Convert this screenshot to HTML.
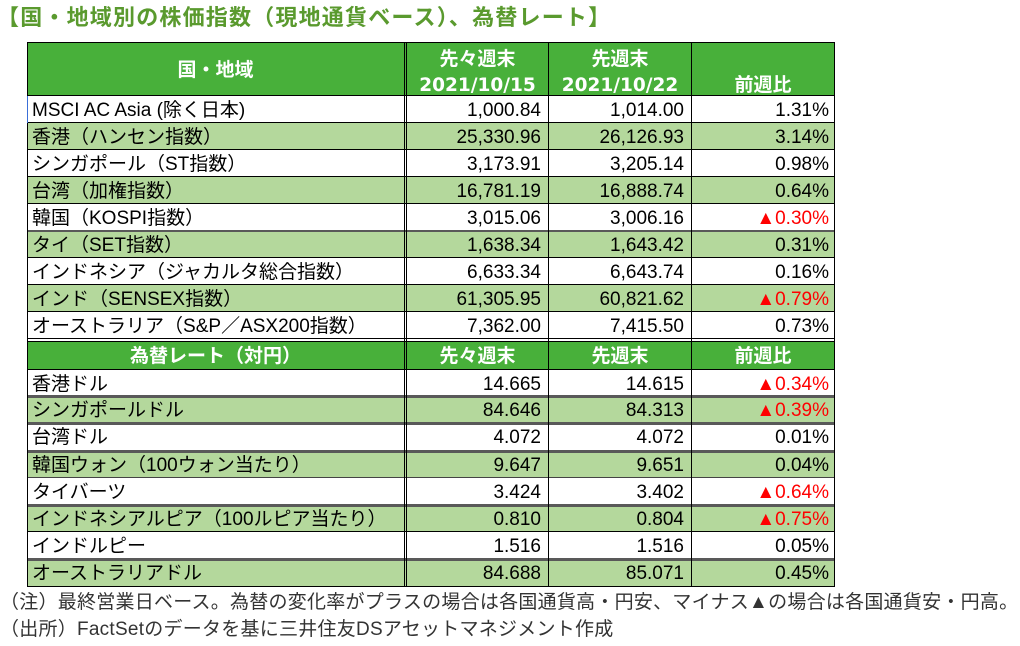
<!DOCTYPE html>
<html><head><meta charset="utf-8">
<style>
html,body{margin:0;padding:0;background:#fff;}
body{width:1020px;height:646px;position:relative;overflow:hidden;font-family:"Liberation Sans","Noto Sans CJK JP",sans-serif;color:#000;}
.t{position:absolute;left:-3px;top:4px;font-size:22px;font-weight:bold;color:#5a9a2e;letter-spacing:1.2px;line-height:28px;white-space:nowrap;}
.r{position:absolute;left:27px;width:808px;}
.g{background:#b4d89c;}
.h{background:#48b03a;}
.w{background:#fff;}
.c{position:absolute;top:1px;white-space:nowrap;font-size:19px;}
.l{left:5px;}
.v1{left:380px;width:134px;text-align:right;}
.v2{left:522px;width:135px;text-align:right;}
.v3{left:665px;width:137px;text-align:right;}
.red{color:#ff0000;}
.hl{position:absolute;left:27px;width:808px;background:#000;}
.vl{position:absolute;top:42px;height:545px;width:1px;background:#000;}
.ht{position:absolute;color:#fff;font-weight:bold;font-size:19px;text-align:center;white-space:nowrap;}
.n{position:absolute;left:0;font-size:19px;color:#333;white-space:nowrap;line-height:27px;letter-spacing:0.25px;}
</style></head><body>
<div class="t">【国・地域別の株価指数（現地通貨ベース）、為替レート】</div>

<div class="r h" style="top:43px;height:53px;"></div>
<div class="r w" style="top:96px;height:27px;line-height:27px;"><div class="c l">MSCI AC Asia (除く日本)</div><div class="c v1">1,000.84</div><div class="c v2">1,014.00</div><div class="c v3">1.31%</div></div>
<div class="r g" style="top:123px;height:27px;line-height:27px;"><div class="c l">香港（ハンセン指数）</div><div class="c v1">25,330.96</div><div class="c v2">26,126.93</div><div class="c v3">3.14%</div></div>
<div class="r w" style="top:150px;height:27px;line-height:27px;"><div class="c l">シンガポール（ST指数）</div><div class="c v1">3,173.91</div><div class="c v2">3,205.14</div><div class="c v3">0.98%</div></div>
<div class="r g" style="top:177px;height:27px;line-height:27px;"><div class="c l">台湾（加権指数）</div><div class="c v1">16,781.19</div><div class="c v2">16,888.74</div><div class="c v3">0.64%</div></div>
<div class="r w" style="top:204px;height:27px;line-height:27px;"><div class="c l">韓国（KOSPI指数）</div><div class="c v1">3,015.06</div><div class="c v2">3,006.16</div><div class="c v3 red">▲0.30%</div></div>
<div class="r g" style="top:231px;height:27px;line-height:27px;"><div class="c l">タイ（SET指数）</div><div class="c v1">1,638.34</div><div class="c v2">1,643.42</div><div class="c v3">0.31%</div></div>
<div class="r w" style="top:258px;height:27px;line-height:27px;"><div class="c l">インドネシア（ジャカルタ総合指数）</div><div class="c v1">6,633.34</div><div class="c v2">6,643.74</div><div class="c v3">0.16%</div></div>
<div class="r g" style="top:285px;height:27px;line-height:27px;"><div class="c l">インド（SENSEX指数）</div><div class="c v1">61,305.95</div><div class="c v2">60,821.62</div><div class="c v3 red">▲0.79%</div></div>
<div class="r w" style="top:312px;height:27px;line-height:27px;"><div class="c l">オーストラリア（S&amp;P／ASX200指数）</div><div class="c v1">7,362.00</div><div class="c v2">7,415.50</div><div class="c v3">0.73%</div></div>
<div class="r h" style="top:342px;height:28px;"></div>
<div class="r w" style="top:370px;height:26px;line-height:27px;"><div class="c l">香港ドル</div><div class="c v1">14.665</div><div class="c v2">14.615</div><div class="c v3 red">▲0.34%</div></div>
<div class="r g" style="top:396px;height:27px;line-height:27px;"><div class="c l">シンガポールドル</div><div class="c v1">84.646</div><div class="c v2">84.313</div><div class="c v3 red">▲0.39%</div></div>
<div class="r w" style="top:423px;height:28px;line-height:28px;"><div class="c l">台湾ドル</div><div class="c v1">4.072</div><div class="c v2">4.072</div><div class="c v3">0.01%</div></div>
<div class="r g" style="top:451px;height:27px;line-height:27px;"><div class="c l">韓国ウォン（100ウォン当たり）</div><div class="c v1">9.647</div><div class="c v2">9.651</div><div class="c v3">0.04%</div></div>
<div class="r w" style="top:478px;height:27px;line-height:27px;"><div class="c l">タイバーツ</div><div class="c v1">3.424</div><div class="c v2">3.402</div><div class="c v3 red">▲0.64%</div></div>
<div class="r g" style="top:505px;height:27px;line-height:27px;"><div class="c l">インドネシアルピア（100ルピア当たり）</div><div class="c v1">0.810</div><div class="c v2">0.804</div><div class="c v3 red">▲0.75%</div></div>
<div class="r w" style="top:532px;height:27px;line-height:27px;"><div class="c l">インドルピー</div><div class="c v1">1.516</div><div class="c v2">1.516</div><div class="c v3">0.05%</div></div>
<div class="r g" style="top:559px;height:28px;line-height:28px;"><div class="c l">オーストラリアドル</div><div class="c v1">84.688</div><div class="c v2">85.071</div><div class="c v3">0.45%</div></div>

<div class="ht" style="left:27px;width:377px;top:58px;line-height:26px;">国・地域</div>
<div class="ht" style="left:407px;width:141px;top:47px;line-height:26px;">先々週末<br><span style="font-family:'DejaVu Sans',sans-serif;font-size:18.5px;">2021/10/15</span></div>
<div class="ht" style="left:549px;width:142px;top:47px;line-height:26px;">先週末<br><span style="font-family:'DejaVu Sans',sans-serif;font-size:18.5px;">2021/10/22</span></div>
<div class="ht" style="left:692px;width:142px;top:73px;line-height:26px;">前週比</div>
<div class="ht" style="left:27px;width:377px;top:343px;line-height:27px;">為替レート（対円）</div>
<div class="ht" style="left:407px;width:141px;top:343px;line-height:27px;">先々週末</div>
<div class="ht" style="left:549px;width:142px;top:343px;line-height:27px;">先週末</div>
<div class="ht" style="left:692px;width:142px;top:343px;line-height:27px;">前週比</div>

<div class="hl" style="top:42px;height:1px;"></div>
<div class="hl" style="top:95px;height:1px;"></div>
<div class="hl" style="top:122px;height:1px;"></div>
<div class="hl" style="top:149px;height:1px;"></div>
<div class="hl" style="top:176px;height:1px;"></div>
<div class="hl" style="top:203px;height:1px;"></div>
<div class="hl" style="top:230px;height:2px;background:#595959;"></div>
<div class="hl" style="top:257px;height:1px;"></div>
<div class="hl" style="top:284px;height:1px;"></div>
<div class="hl" style="top:311px;height:1px;"></div>
<div class="hl" style="top:338px;height:1px;"></div>
<div class="hl" style="top:341px;height:1px;"></div>
<div class="hl" style="top:369px;height:1px;"></div>
<div class="hl" style="top:395px;height:3px;background:#595959;"></div>
<div class="hl" style="top:422px;height:3px;background:#595959;"></div>
<div class="hl" style="top:450px;height:3px;background:#595959;"></div>
<div class="hl" style="top:477px;height:1px;background:#444;"></div>
<div class="hl" style="top:504px;height:3px;background:#595959;"></div>
<div class="hl" style="top:531px;height:1px;"></div>
<div class="hl" style="top:558px;height:3px;background:#595959;"></div>
<div class="hl" style="top:586px;height:1px;"></div>

<div class="vl" style="left:27px;"></div>
<div class="vl" style="left:27px;top:96px;height:27px;background:#3a6fd8;"></div>
<div class="vl" style="left:404px;"></div>
<div class="vl" style="left:406px;"></div>
<div class="vl" style="left:548px;"></div>
<div class="vl" style="left:691px;"></div>
<div class="vl" style="left:834px;"></div>

<div class="n" style="top:589px;">（注）最終営業日ベース。為替の変化率がプラスの場合は各国通貨高・円安、マイナス▲の場合は各国通貨安・円高。</div>
<div class="n" style="top:616px;">（出所）FactSetのデータを基に三井住友DSアセットマネジメント作成</div>
</body></html>
